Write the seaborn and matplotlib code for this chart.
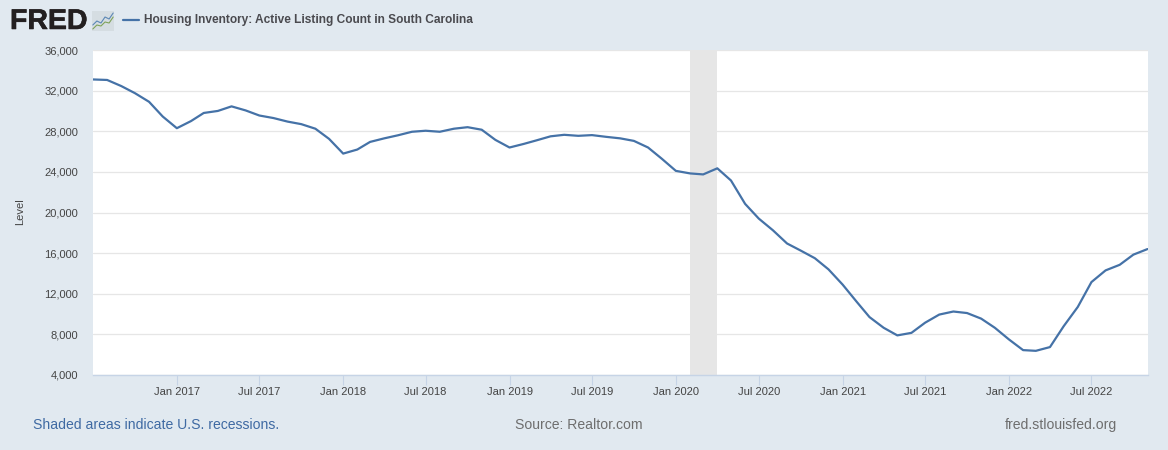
import matplotlib
matplotlib.use("Agg")
import matplotlib.dates as mdates
import matplotlib.patheffects as pe
import matplotlib.pyplot as plt
import matplotlib.ticker as mticker
import pandas as pd
import seaborn as sns

# monthly values, Jul 2016 - Nov 2022
start_month = "2016-07-01"
listings = [
    33100, 33050, 32450, 31750, 30900, 29450,
    28300, 29000, 29800, 30000, 30450, 30050, 29550, 29300, 28950, 28700, 28250, 27250,
    25800, 26200, 26950, 27300, 27600, 27950, 28050, 27950, 28250, 28400, 28150, 27150,
    26400, 26750, 27100, 27500, 27650, 27550, 27620, 27450, 27300, 27050, 26400, 25300,
    24100, 23850, 23750, 24350, 23150, 20850, 19400, 18250, 16950, 16250, 15500, 14400,
    12900, 11200, 9700, 8650, 7900, 8150, 9150, 9950, 10250, 10100, 9550, 8650,
    7500, 6450, 6380, 6750, 8800, 10700, 13150, 14300, 14850, 15850, 16400,
]
recession_start = "2020-02-01"
recession_end = "2020-04-01"
y_ticks = [4000, 8000, 12000, 16000, 20000, 24000, 28000, 32000, 36000]
x_ticks = ["2017-01-01", "2017-07-01", "2018-01-01", "2018-07-01", "2019-01-01", "2019-07-01",
           "2020-01-01", "2020-07-01", "2021-01-01", "2021-07-01", "2022-01-01", "2022-07-01"]

title = "Housing Inventory: Active Listing Count in South Carolina"

BG = "#e1e9f0"
LINE = "#4572a7"
W, H = 1168, 450

df = pd.DataFrame({
    "date": pd.date_range(start_month, periods=len(listings), freq="MS"),
    "listings": listings,
})

sns.set_theme(style="white")
plt.rcParams["font.family"] = ["Liberation Sans", "DejaVu Sans"]

fig = plt.figure(figsize=(W / 100, H / 100), dpi=100, facecolor=BG)
ax = fig.add_axes([93 / W, 1 - 375 / H, (1147.5 - 93) / W, (375 - 50) / H])

ax.axvspan(pd.Timestamp(recession_start), pd.Timestamp(recession_end), color="#e6e6e6", lw=0, zorder=1)
sns.lineplot(data=df, x="date", y="listings", color=LINE, linewidth=1.6, ax=ax, zorder=3)

ax.set_xlim(df["date"].iloc[0], df["date"].iloc[-1])
ax.set_ylim(y_ticks[0], y_ticks[-1])
ax.set_yticks(y_ticks)
ax.set_xticks(pd.to_datetime(x_ticks))
ax.xaxis.set_major_formatter(mdates.DateFormatter("%b %Y"))
ax.yaxis.set_major_formatter(mticker.StrMethodFormatter("{x:,.0f}"))
ax.grid(axis="y", color="#e6e6e6", lw=0.9, zorder=0)
ax.set_axisbelow(True)

for side in ["top", "right", "left"]:
    ax.spines[side].set_visible(False)
ax.spines["bottom"].set_color("#c6d4e6")
ax.spines["bottom"].set_linewidth(1)
ax.tick_params(axis="x", bottom=True, length=7, width=0.8, color="#c6d4e6", labelsize=8, labelcolor="#444444", pad=1.5)
ax.tick_params(axis="y", left=False, length=0, labelsize=8, labelcolor="#444444", pad=10.5)
ax.set_xlabel("")
ax.set_ylabel("")

fig.text(20 / W, 1 - 212 / H, "Level", rotation=90, ha="center", va="center", fontsize=8, color="#444444")

# header: logo, small icon and legend key
fig.text(10 / W, 1 - 22 / H, "FRED", fontsize=20.5, fontweight="bold", color="#231f20", ha="left", va="center",
         path_effects=[pe.withStroke(linewidth=0.4, foreground="#231f20")])
icon = fig.add_axes([92 / W, 1 - 31 / H, 22 / W, 20 / H], facecolor="#d5dde2")
icon.plot([0, 1, 2, 3, 4, 5], [3, 5, 4, 7, 6, 9], color="#5b87b5", lw=0.8)
icon.plot([0, 1, 2, 3, 4, 5], [1, 3, 2.5, 4.5, 4, 7], color="#7fa35a", lw=0.8)
icon.set_xlim(-0.2, 5.2)
icon.set_ylim(0, 10)
icon.set_xticks([])
icon.set_yticks([])
for s in icon.spines.values():
    s.set_visible(False)

fig.add_artist(plt.Line2D([123 / W, 139 / W], [1 - 20 / H, 1 - 20 / H], color=LINE, lw=1.6))
fig.text(144 / W, 1 - 19.5 / H, title, fontsize=8.6, fontweight="bold", color="#4a4a4f", ha="left", va="center")

# footer
fig.text(33 / W, 1 - 425 / H, "Shaded areas indicate U.S. recessions.", fontsize=10.1, color="#3f6aa3", ha="left", va="center")
fig.text(515 / W, 1 - 425 / H, "Source: Realtor.com", fontsize=10.1, color="#6e6e6e", ha="left", va="center")
fig.text(1117 / W, 1 - 425 / H, "fred.stlouisfed.org", fontsize=10.1, color="#6e6e6e", ha="right", va="center")

fig.savefig("out.png", dpi=100, facecolor=BG)
